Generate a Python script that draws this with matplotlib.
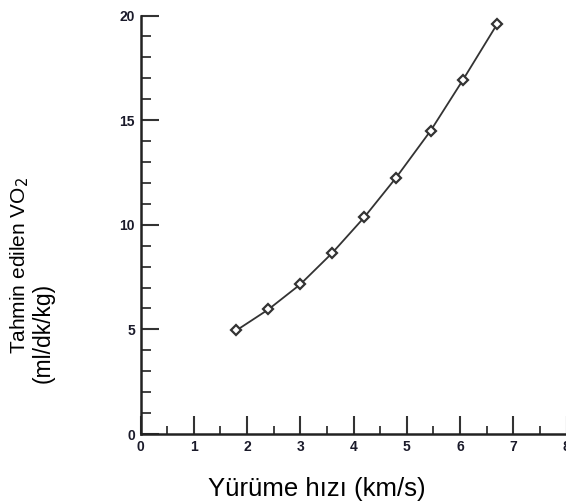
import matplotlib
matplotlib.use("Agg")
import matplotlib.pyplot as plt
from matplotlib.ticker import MultipleLocator

plt.rcParams['font.family'] = ['Liberation Sans', 'DejaVu Sans']

speed = [1.8, 2.4, 3.0, 3.6, 4.2, 4.8, 5.45, 6.05, 6.7]
vo2 = [4.95, 5.95, 7.15, 8.65, 10.35, 12.25, 14.5, 16.9, 19.6]
x_ticks = [0, 1, 2, 3, 4, 5, 6, 7, 8]
y_ticks = [0, 5, 10, 15, 20]

W, H = 566, 504
fig = plt.figure(figsize=(W / 100, H / 100), dpi=100)
left_px, right_px, top_px, bottom_px = 140.5, 566.5, 15.5, 434
ax = fig.add_axes([left_px / W, 1 - bottom_px / H, (right_px - left_px) / W, (bottom_px - top_px) / H])

ax.plot(speed, vo2, color='#333333', lw=1.3, marker='D', markersize=5.5,
        markerfacecolor='white', markeredgecolor='#333333', markeredgewidth=1.6, clip_on=False)

ax.set_xlim(0, 8)
ax.set_ylim(0, 20)
ax.set_xticks(x_ticks)
ax.set_yticks(y_ticks)
ax.xaxis.set_minor_locator(MultipleLocator(0.5))
ax.yaxis.set_minor_locator(MultipleLocator(1))
for s in ['top', 'right']:
    ax.spines[s].set_visible(False)
for s in ['left', 'bottom']:
    ax.spines[s].set_linewidth(1.8)
    ax.spines[s].set_color('#222222')
ax.tick_params(which='major', direction='in', length=13, width=1.5, color='#333333',
               labelsize=10, pad=4)
ax.tick_params(which='minor', direction='in', length=7, width=1.3, color='#333333')
ax.tick_params(axis='x', which='minor', length=6)
for lab in ax.get_xticklabels() + ax.get_yticklabels():
    lab.set_fontweight('bold')
    lab.set_color('#1a1a2a')

fig.text(317 / W, 1 - 489 / H, 'Yürüme hızı (km/s)', ha='center', va='center', fontsize=18.5)
fig.text(20 / W, 1 - 265 / H, 'Tahmin edilen VO$_2$', ha='center', va='center',
         rotation=90, fontsize=15)
fig.text(43 / W, 1 - 333 / H, '(ml/dk/kg)', ha='center', va='center',
         rotation=90, fontsize=16.5)

fig.savefig('out.png', dpi=100)
